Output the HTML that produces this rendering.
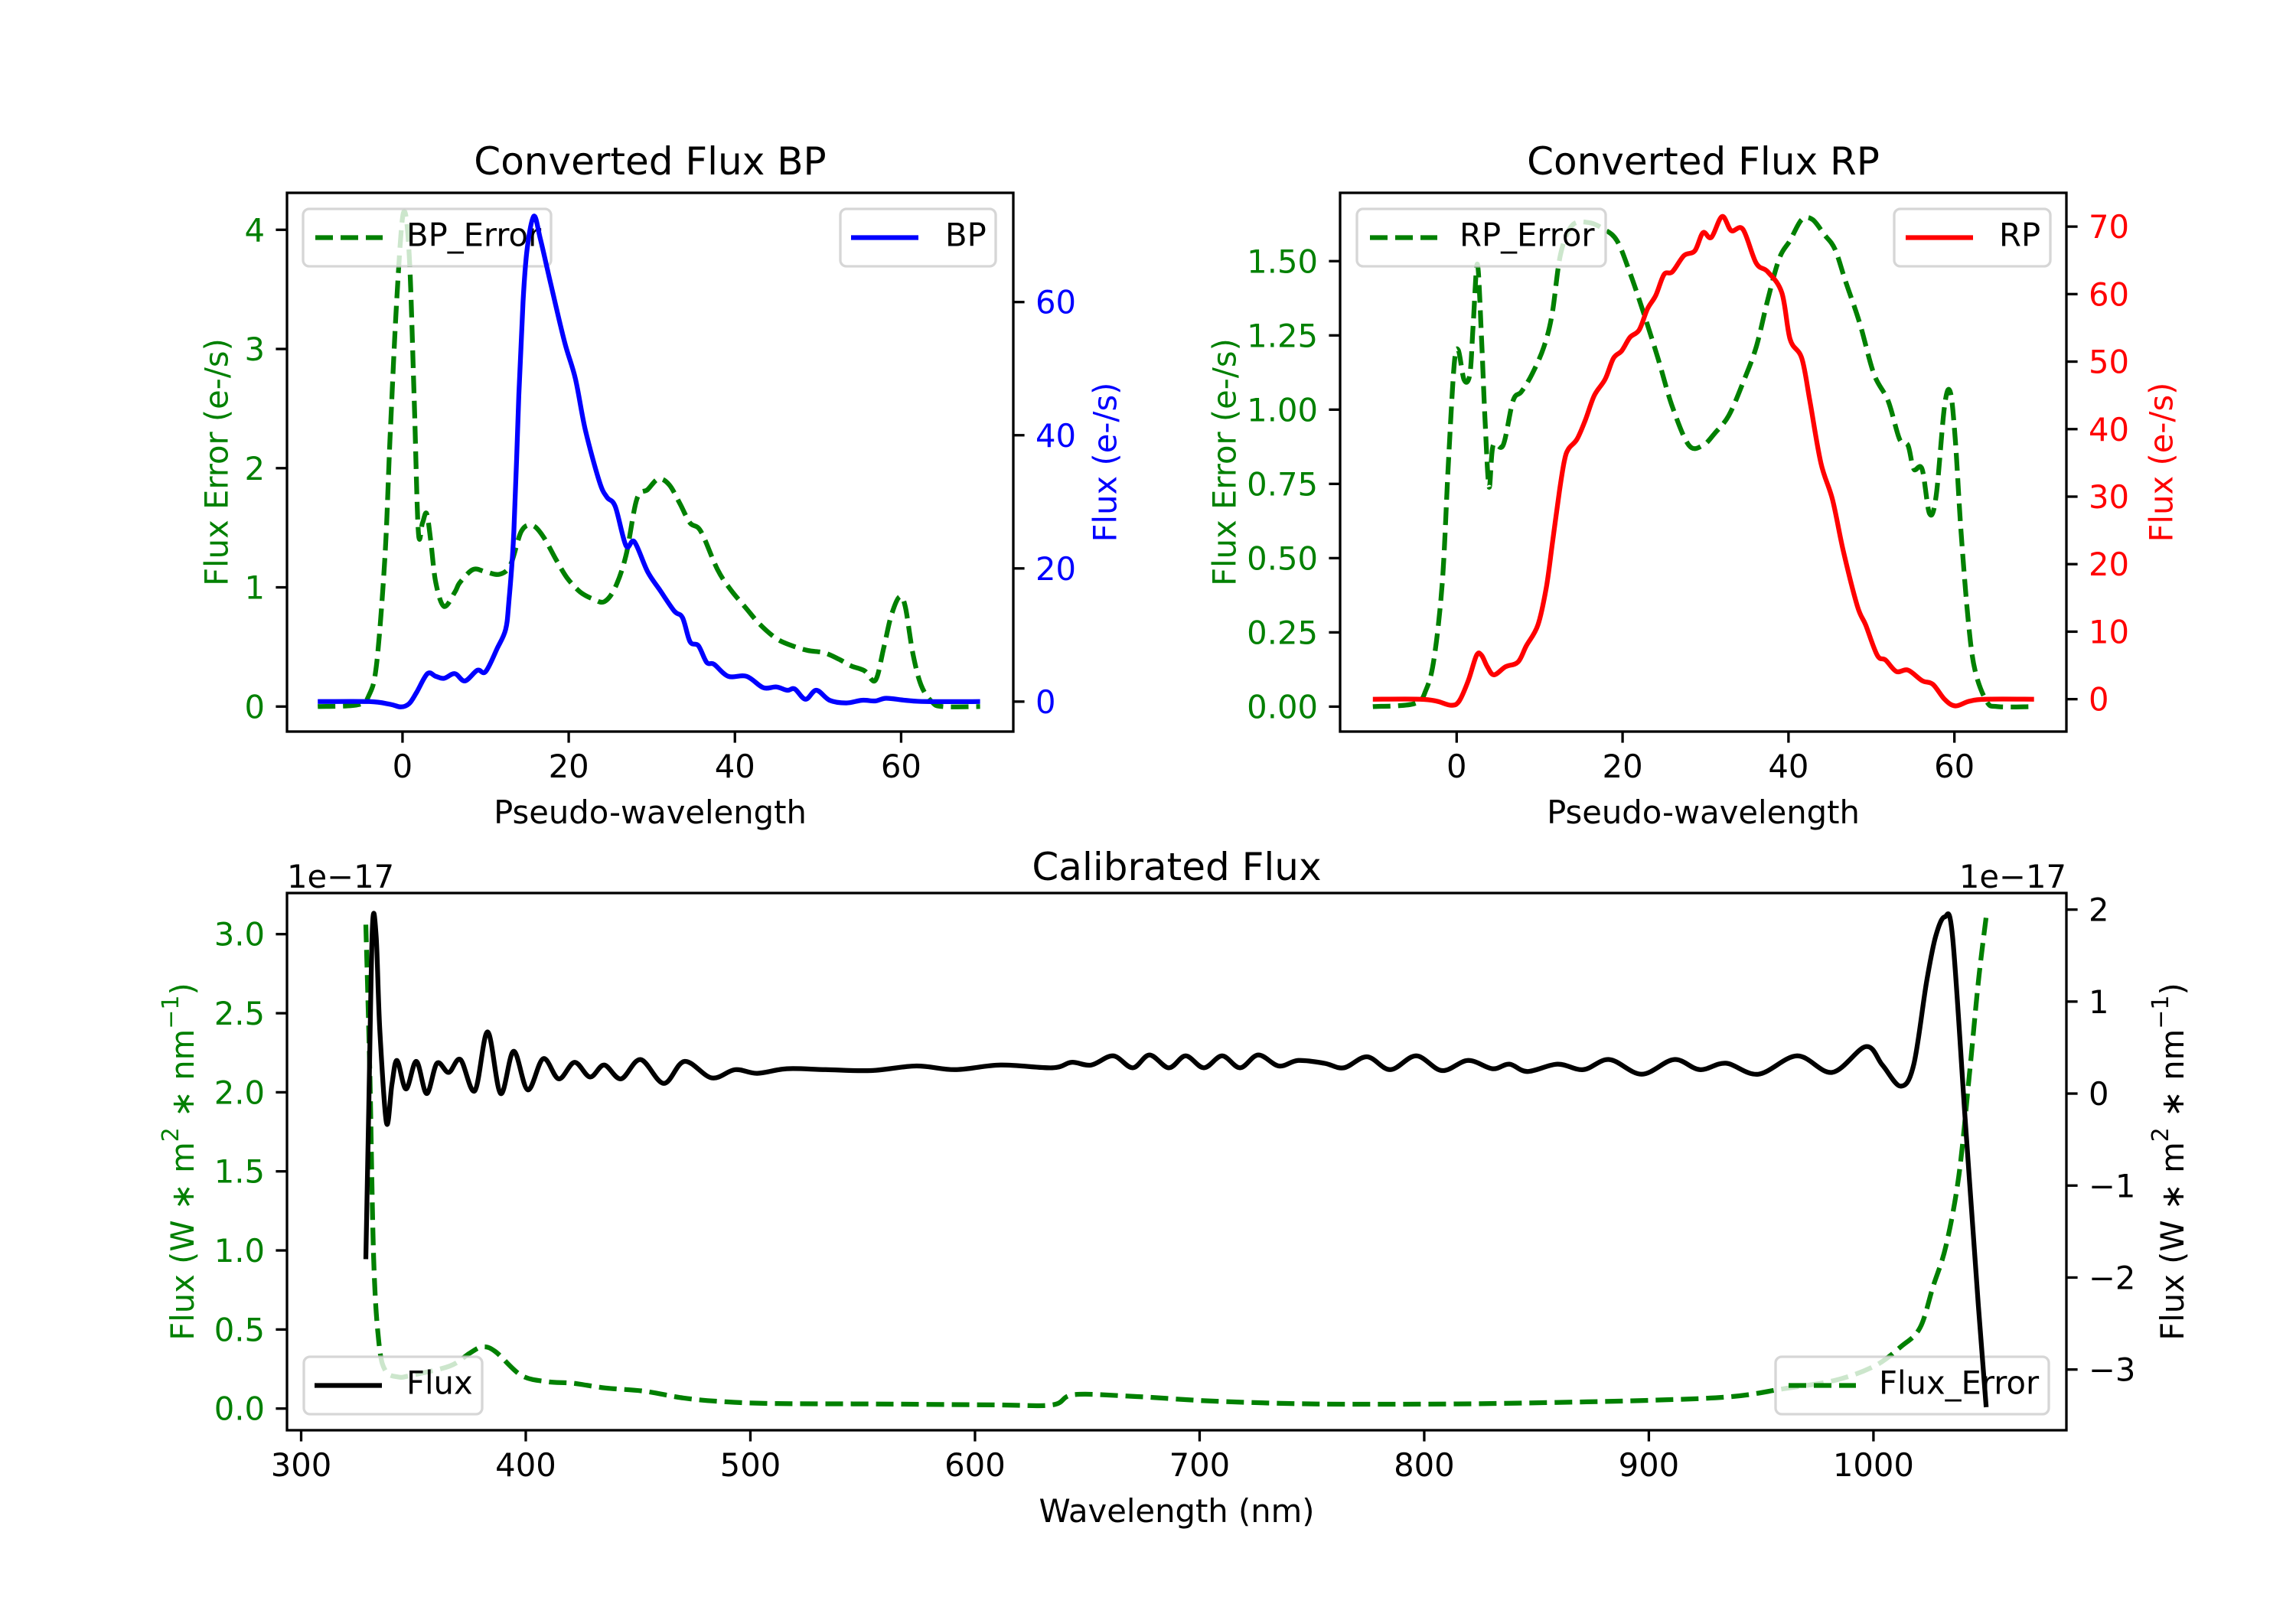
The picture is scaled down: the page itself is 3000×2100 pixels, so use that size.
<!DOCTYPE html>
<html><head><meta charset="utf-8">
<style>
html,body{margin:0;padding:0;background:#fff;}
svg{display:block;}
text{font-family:"DejaVu Sans","Liberation Sans",sans-serif;}
</style></head>
<body>
<svg id="fig" xmlns="http://www.w3.org/2000/svg" width="3000" height="2100" viewBox="0 0 3000 2100">
<rect width="3000" height="2100" fill="#fff"/>
</svg>
<script>
// ---------- BP data ----------
const bpX = [-10.2,-4,-1.5,-0.2,0.8,1.7,3,4,5,6.3,7.5,9,10,11.4,12.4,12.8,13.4,14,14.5,15,15.8,16.6,17.9,19.5,20.8,22,23.7,24.6,25.6,26.9,27.9,29.5,31,32.7,33.7,34.6,35.6,36.6,37.5,39.2,41.4,43.4,45,46.3,47.2,48.5,49.8,51.4,53.4,55.3,56.9,58.2,60.5,63,69.5];
const bpFlux = [0,0,-0.4,-0.8,-0.3,1.4,4.2,3.8,3.5,4.2,3.1,4.7,4.5,8,10.8,15,25.5,46,60,68,72.9,69.4,62.4,54,48.5,40.8,33,30.7,29.3,23.4,24,19.5,16.7,13.6,12.6,9,8.4,5.9,5.6,3.8,3.8,2.1,2.2,1.7,1.9,0.35,1.7,0.2,-0.2,0.2,0.1,0.5,0.2,0,0];
const bpErrX = [-10.2,-5.4,-4,-3.1,-2.1,-1.5,-0.7,0.1,0.8,1.4,1.9,2.4,2.9,3.4,4,5,6.3,6.9,8.5,10,11.7,13,14.3,15.6,16.9,18.5,19.8,21.4,23,24.3,25.6,26.9,28.2,29.5,30.8,32.1,33.4,34.6,35.9,37.9,39.5,41.4,43,45,46.9,48.8,50.8,52.7,54,55.6,56.9,57.9,58.8,59.8,60.5,61.4,62.4,63.7,65,69.5];
const bpErr = [0,0.015,0.1,0.37,1.27,2.25,3.4,4.14,3.8,2.6,1.47,1.54,1.62,1.39,1.04,0.84,0.96,1.04,1.15,1.13,1.11,1.19,1.47,1.52,1.43,1.23,1.08,0.96,0.9,0.88,1.0,1.27,1.74,1.82,1.91,1.86,1.7,1.54,1.47,1.15,0.98,0.82,0.69,0.57,0.51,0.47,0.45,0.39,0.34,0.3,0.22,0.49,0.76,0.92,0.84,0.45,0.18,0.04,0,0];
const bpXTicks = [0,20,40,60];
const bpLeftTicks = [0,1,2,3,4];
const bpRightTicks = [0,20,40,60];
// ---------- RP data ----------
const rpX = [-10.1,-4.4,-2.4,-0.7,0.3,1.4,2.4,3,3.7,4.5,5.9,7.4,8.4,9.8,10.8,11.5,12.4,13,13.5,14.5,15.5,16.6,17.9,18.9,19.9,20.9,22,23,24,25,26,27.4,28.7,29.7,30.7,32,33.1,34.5,36.1,37.5,39.2,40.2,41.6,42.6,43.9,45.3,46.6,48.3,49.3,50.7,51.7,53,54.4,56.1,57.4,58.8,60.1,61.8,63.9,69.6];
const rpFlux = [0,0,-0.3,-0.9,-0.3,2.75,6.5,6.5,4.8,3.6,4.8,5.5,7.9,11,16.5,22.7,30.9,35.4,37.1,38.5,41.3,45,47.4,50.5,51.6,53.6,54.7,57.8,59.8,62.9,63.3,65.7,66.4,69.1,68.4,71.5,69.4,69.6,64.6,63.3,60.2,53.3,50.5,44,35,29.6,22,13.8,11,6.5,5.8,4.1,4.3,2.75,2.2,0,-1,-0.3,0,0];
const rpErrX = [-10.1,-5.1,-3.7,-2.7,-1.7,-1,-0.3,0.2,0.9,1.6,2,2.5,3,3.4,3.9,4.4,5.6,6.8,7.8,9.1,10.5,11.5,12.5,13.9,15.9,17.6,19.3,20.9,22.6,24.3,26,28,29.7,31.1,32.8,34.5,36.1,37.5,38.9,40.2,41.6,42.9,44.3,45.6,46.9,48.6,50.3,52,53.4,54.4,55.1,56.1,57,57.8,58.8,59.5,60.1,60.8,61.7,62.5,63.9,65.2,69.3];
const rpErr = [0,0.01,0.056,0.166,0.43,0.82,1.15,1.2,1.1,1.12,1.29,1.49,1.24,0.98,0.74,0.88,0.88,1.03,1.06,1.12,1.21,1.32,1.52,1.62,1.63,1.61,1.57,1.46,1.32,1.17,1.01,0.88,0.88,0.92,0.98,1.09,1.21,1.37,1.51,1.57,1.64,1.64,1.59,1.54,1.43,1.29,1.12,1.03,0.9,0.88,0.8,0.8,0.65,0.71,1.01,1.06,0.9,0.59,0.28,0.12,0.017,0,0];
const rpXTicks = [0,20,40,60];
const rpLeftTicks = [0,0.25,0.5,0.75,1,1.25,1.5];
const rpLeftLabels = ['0.00','0.25','0.50','0.75','1.00','1.25','1.50'];
const rpRightTicks = [0,10,20,30,40,50,60,70];
// ---------- Calibrated data (units 1e-17) ----------
const calX = [328.8,330,331.7,333.4,335,338,340.4,342.7,346.7,351.3,355.9,360.5,365.7,370.9,377.3,383,388.8,394.6,400.9,407.8,414.7,421.7,428.6,434.9,442.4,451.1,461.4,470.7,482.8,493.2,503,516.2,533.5,553.7,573.9,591.2,611.4,634.4,643,651.7,661.5,670.2,677.7,686.3,693.8,701.9,710,718,726.1,735.3,743.9,755.5,764.2,774.5,784.9,796.4,807.9,819.5,830.4,837.9,846,859.3,870.8,882.4,896.8,911.2,922.7,934.3,948.7,966,981.6,996.6,1004,1012.1,1017.9,1023.6,1027.7,1031.7,1035.2,1040.9,1046.7,1050.2];
const calFlux = [-1.8,-0.3,1.79,1.71,0.7,-0.32,0.1,0.36,0.05,0.35,0.0,0.33,0.23,0.37,0.03,0.67,0.0,0.46,0.04,0.38,0.16,0.34,0.18,0.31,0.16,0.37,0.11,0.35,0.17,0.26,0.22,0.27,0.26,0.25,0.30,0.26,0.31,0.28,0.34,0.31,0.41,0.28,0.42,0.28,0.41,0.28,0.41,0.28,0.42,0.30,0.36,0.33,0.28,0.40,0.26,0.41,0.25,0.36,0.27,0.32,0.24,0.32,0.26,0.37,0.21,0.37,0.26,0.33,0.21,0.41,0.23,0.51,0.31,0.08,0.31,1.21,1.71,1.92,1.71,-0.3,-2.31,-3.41];
const calErrX = [328.8,330.6,332.3,334.6,337.5,343.2,349,366.3,375,380.7,386.5,398,409.6,421,435.5,452.8,470,487.4,510.5,556.6,608.5,634.4,644.2,671.9,706.5,752.6,810.3,856.4,902.6,937.1,960.2,983.3,1000.6,1012.1,1020.7,1026.5,1032.3,1038,1042.7,1046.7,1050.2];
const calErr = [3.06,2.11,0.94,0.42,0.24,0.2,0.21,0.27,0.35,0.39,0.36,0.21,0.17,0.16,0.13,0.11,0.067,0.044,0.032,0.029,0.023,0.023,0.088,0.076,0.047,0.029,0.029,0.038,0.053,0.076,0.126,0.18,0.27,0.39,0.51,0.77,1.03,1.47,2.11,2.7,3.11];
const calXTicks = [300,400,500,600,700,800,900,1000];
const calLeftTicks = [0,0.5,1,1.5,2,2.5,3];
const calLeftLabels = ['0.0','0.5','1.0','1.5','2.0','2.5','3.0'];
const calRightTicks = [-3,-2,-1,0,1,2];
const calRightLabels = ['\u22123','\u22122','\u22121','0','1','2'];

const NS = 'http://www.w3.org/2000/svg';
const fig = document.getElementById('fig');
function mk(tag, attrs, parent){
  const e = document.createElementNS(NS, tag);
  for (const k in attrs) e.setAttribute(k, attrs[k]);
  (parent||fig).appendChild(e);
  return e;
}
function scale(d0,d1,p0,p1){ return v => p0 + (v-d0)/(d1-d0)*(p1-p0); }
function smoothPath(pts){
  let d = 'M'+pts[0][0].toFixed(1)+','+pts[0][1].toFixed(1);
  for (let i=0;i<pts.length-1;i++){
    const p0=pts[i-1]||pts[i], p1=pts[i], p2=pts[i+1], p3=pts[i+2]||pts[i+1];
    const c1x=p1[0]+(p2[0]-p0[0])/6, c1y=p1[1]+(p2[1]-p0[1])/6;
    const c2x=p2[0]-(p3[0]-p1[0])/6, c2y=p2[1]-(p3[1]-p1[1])/6;
    d += ' C'+c1x.toFixed(1)+','+c1y.toFixed(1)+' '+c2x.toFixed(1)+','+c2y.toFixed(1)+' '+p2[0].toFixed(1)+','+p2[1].toFixed(1);
  }
  return d;
}
const LW = 6.25, DASH = '23,10', FS = 41.7;
const GREEN='#008000';

function drawChart(c){
  const g = mk('g', {});
  
  
  const sx = scale(c.xlim[0], c.xlim[1], c.x0, c.x1);
  const syl = scale(c.ylimL[0], c.ylimL[1], c.y1, c.y0);
  const syr = scale(c.ylimR[0], c.ylimR[1], c.y1, c.y0);
  const clipId = c.name+'-clip';
  const cp = mk('clipPath', {id: clipId}, g);
  mk('rect', {x:c.x0, y:c.y0, width:c.x1-c.x0, height:c.y1-c.y0}, cp);

  const t = mk('text', {x:(c.x0+c.x1)/2, y:c.titleY, 'font-size':50, 'text-anchor':'middle', fill:'#000'}, g);
  t.textContent = c.title;
  
  

  const lp = mk('path', {d: smoothPath(c.errX.map((v,i)=>[sx(v), syl(c.err[i])])), fill:'none', stroke:GREEN, 'stroke-width':LW, 'stroke-dasharray':DASH, 'clip-path':'url(#'+clipId+')'}, g);
  
  

  drawLegend(g, c.legL, 'dash', GREEN);

  const rp = mk('path', {d: smoothPath(c.fx.map((v,i)=>[sx(v), syr(c.fy[i])])), fill:'none', stroke:c.color, 'stroke-width':LW, 'stroke-linejoin':'round', 'clip-path':'url(#'+clipId+')'}, g);
  
  

  drawLegend(g, c.legR, 'solid', c.color);

  const sp = mk('rect', {x:c.x0, y:c.y0, width:c.x1-c.x0, height:c.y1-c.y0, fill:'none', stroke:'#000', 'stroke-width':3.3}, g);
  
  

  c.xticks.forEach(v=>{
    const x = sx(v);
    mk('line', {x1:x, x2:x, y1:c.y1, y2:c.y1+14.6, stroke:'#000', 'stroke-width':3.3}, g);
    const tl = mk('text', {x:x, y:c.y1+60, 'font-size':FS, 'text-anchor':'middle', fill:'#000'}, g);
    tl.textContent = String(v);
    
    
  });
  c.lticks.forEach((v,i)=>{
    const y = syl(v);
    mk('line', {x1:c.x0-14.6, x2:c.x0, y1:y, y2:y, stroke:'#000', 'stroke-width':3.3}, g);
    const tl = mk('text', {x:c.x0-29, y:y+15, 'font-size':FS, 'text-anchor':'end', fill:GREEN}, g);
    tl.textContent = c.llabels ? c.llabels[i] : String(v);
    
    
  });
  c.rticks.forEach((v,i)=>{
    const y = syr(v);
    mk('line', {x1:c.x1, x2:c.x1+14.6, y1:y, y2:y, stroke:'#000', 'stroke-width':3.3}, g);
    const tl = mk('text', {x:c.x1+29, y:y+15, 'font-size':FS, 'text-anchor':'start', fill:c.rcolor}, g);
    tl.textContent = c.rlabels ? c.rlabels[i] : String(v);
    
    
  });
  const xl = mk('text', {x:(c.x0+c.x1)/2, y:c.y1+120, 'font-size':FS, 'text-anchor':'middle', fill:'#000'}, g);
  xl.textContent = c.xlabel;
  
  
  const cy = (c.y0+c.y1)/2;
  const yl = mk('text', {x:c.ylabLX, y:cy, 'font-size':FS, 'text-anchor':'middle', fill:GREEN, transform:'rotate(-90 '+c.ylabLX+' '+cy+')', 'dominant-baseline':'central'}, g);
  setLabel(yl, c.ylabL);
  
  
  const yr = mk('text', {x:c.ylabRX, y:cy, 'font-size':FS, 'text-anchor':'middle', fill:c.rcolor, transform:'rotate(-90 '+c.ylabRX+' '+cy+')', 'dominant-baseline':'central'}, g);
  setLabel(yr, c.ylabR);
  
  
  return g;
}
function setLabel(el, lab){
  if (typeof lab === 'string'){ el.textContent = lab; return; }
  lab.forEach(part=>{
    const ts = document.createElementNS(NS,'tspan');
    ts.textContent = part[0];
    if (part[1]) { ts.setAttribute('dy', part[1]); }
    if (part[2]) { ts.setAttribute('font-size', part[2]); }
    el.appendChild(ts);
  });
}
function drawLegend(g, L, style, color){
  const lg = mk('g', {}, g);
  
  
  mk('rect', {x:L.x, y:L.y, width:L.w, height:L.h, rx:8, ry:8, fill:'rgba(255,255,255,0.8)', stroke:'rgba(204,204,204,0.8)', 'stroke-width':3.3}, lg);
  const ly = L.y + L.h/2;
  const a = {x1:L.hx, x2:L.hx+88, y1:ly, y2:ly, stroke:color, 'stroke-width':LW};
  if (style==='dash') a['stroke-dasharray'] = DASH;
  mk('line', a, lg);
  const tx = mk('text', {x:L.tx, y:ly+11, 'font-size':FS, fill:'#000'}, lg);
  tx.textContent = L.text;
}

drawChart({
  name:'bp-chart', title:'Converted Flux BP', titleY:228,
  x0:375, x1:1324, y0:252, y1:956,
  xlim:[-13.9,73.5], ylimL:[-0.21,4.31], ylimR:[-4.5,76.4],
  errX:bpErrX, err:bpErr, fx:bpX, fy:bpFlux, color:'#0000ff', rcolor:'#0000ff',
  xticks:bpXTicks, lticks:bpLeftTicks, rticks:bpRightTicks,
  xlabel:'Pseudo-wavelength', ylabL:'Flux Error (e-/s)', ylabR:'Flux (e-/s)', ylabLX:283, ylabRX:1444,
  legL:{x:396,y:273,w:324,h:75,hx:412,tx:531,text:'BP_Error'},
  legR:{x:1098,y:273,w:203,h:75,hx:1112,tx:1235,text:'BP'}
});
drawChart({
  name:'rp-chart', title:'Converted Flux RP', titleY:228,
  x0:1751, x1:2700, y0:252, y1:956,
  xlim:[-14.05,73.5], ylimL:[-0.084,1.73], ylimR:[-4.8,75],
  errX:rpErrX, err:rpErr, fx:rpX, fy:rpFlux, color:'#ff0000', rcolor:'#ff0000',
  xticks:rpXTicks, lticks:rpLeftTicks, llabels:rpLeftLabels, rticks:rpRightTicks,
  xlabel:'Pseudo-wavelength', ylabL:'Flux Error (e-/s)', ylabR:'Flux (e-/s)', ylabLX:1600, ylabRX:2824,
  legL:{x:1773,y:273,w:325,h:75,hx:1790,tx:1907,text:'RP_Error'},
  legR:{x:2475,y:273,w:204,h:75,hx:2490,tx:2612,text:'RP'}
});
const fluxLabel = [['Flux (W \u2217 m'],['2','-15','30'],[' \u2217 nm','15',''],['\u22121','-15','30'],[')','15','']];
drawChart({
  name:'calibrated-chart', title:'Calibrated Flux', titleY:1150,
  x0:375, x1:2700, y0:1167, y1:1869,
  xlim:[293.7,1085.9], ylimL:[-0.137,3.26], ylimR:[-3.66,2.18],
  errX:calErrX, err:calErr, fx:calX, fy:calFlux, color:'#000', rcolor:'#000',
  xticks:calXTicks, lticks:calLeftTicks, llabels:calLeftLabels, rticks:calRightTicks, rlabels:calRightLabels,
  xlabel:'Wavelength (nm)', ylabL:fluxLabel, ylabR:fluxLabel, ylabLX:238, ylabRX:2838,
  legL:{x:2320,y:1773,w:357,h:75,hx:2337,tx:2455,text:'Flux_Error'},
  legR:{x:397,y:1773,w:233,h:75,hx:411,tx:531,text:'Flux'}
});
const o1 = mk('text', {x:375, y:1160, 'font-size':FS, fill:'#000'});
o1.textContent = '1e\u221217';


const o2 = mk('text', {x:2700, y:1160, 'font-size':FS, 'text-anchor':'end', fill:'#000'});
o2.textContent = '1e\u221217';


</script>
</body></html>
